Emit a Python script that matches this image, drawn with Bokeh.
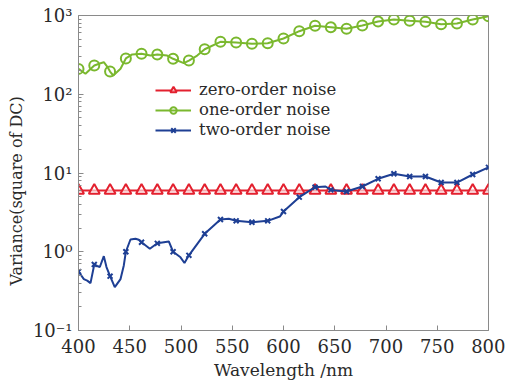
import math
from bokeh.plotting import figure
from bokeh.models import FixedTicker, CustomJSTickFormatter, Legend, LegendItem, Title
from bokeh.embed import file_html
from bokeh.resources import INLINE

# marker positions (nm)
marker_wl = [400, 415.4, 430.8, 446.2, 461.5, 476.9, 492.3, 507.7, 523.1, 538.5,
             553.8, 569.2, 584.6, 600, 615.4, 630.8, 646.2, 661.5, 676.9, 692.3,
             707.7, 723.1, 738.5, 753.8, 769.2, 784.6, 800]

zero_vals = [6.0] * 27

one_marker_vals = [210, 232, 194, 285, 326, 320, 282, 268, 373, 463, 454, 437, 445,
                   510, 632, 740, 710, 677, 747, 840, 890, 857, 832, 776, 792, 890, 980]

two_marker_vals = [0.56, 0.69, 0.49, 1.0, 1.32, 1.28, 1.0, 0.90, 1.69, 2.57, 2.47, 2.37,
                   2.47, 3.24, 4.93, 6.6, 6.1, 5.82, 6.74, 8.44, 9.77, 9.03, 9.03, 7.57,
                   7.57, 9.57, 11.8]

# curve samples
one_line_wl = [400, 406.8, 415.4, 421.5, 424.7, 428, 430.8, 433.9, 441, 446.2, 452.4,
               461.5, 470.2, 476.9, 486.5, 492.3, 502.7, 507.7, 515.8, 523.1, 538.5,
               553.8, 569.2, 584.6, 600, 615.4, 630.8, 646.2, 661.5, 676.9, 692.3,
               707.7, 723.1, 738.5, 753.8, 769.2, 784.6, 800]
one_line_vals = [210, 182, 232, 248, 255, 225, 194, 173, 211, 285, 320, 326, 310, 320,
                 310, 282, 248, 268, 310, 373, 463, 454, 437, 445, 510, 632, 740, 710,
                 677, 747, 840, 890, 857, 832, 776, 792, 890, 980]

two_line_wl = [400, 405.2, 408.5, 411.7, 415.4, 418.2, 420.8, 424.7, 427.3, 430.8, 435.4,
               441, 444.2, 446.2, 450.7, 455.6, 458.8, 461.5, 469.6, 476.9, 488.1, 492.3,
               499.5, 503.4, 507.7, 523.1, 538.5, 546.6, 553.8, 569.2, 584.6, 596.4, 600,
               615.4, 630.8, 641, 646.2, 661.5, 676.9, 692.3, 707.7, 723.1, 738.5, 753.8,
               769.2, 784.6, 800]
two_line_vals = [0.56, 0.45, 0.43, 0.40, 0.69, 0.66, 0.64, 0.88, 0.64, 0.49, 0.355,
                 0.45, 0.67, 1.0, 1.43, 1.46, 1.42, 1.32, 1.09, 1.28, 1.35, 1.0,
                 0.85, 0.72, 0.90, 1.69, 2.57, 2.62, 2.47, 2.37, 2.47, 2.8, 3.24,
                 4.93, 6.6, 6.74, 6.1, 5.82, 6.74, 8.44, 9.77, 9.03, 9.03, 7.57,
                 7.57, 9.57, 11.8]

x_ticks = [400, 450, 500, 550, 600, 650, 700, 750, 800]
y_ticks = [0.1, 1, 10, 100, 1000]

RED = "#e3212f"
GREEN = "#7ab82e"
BLUE = "#1e3f94"
FONT = "DejaVu Serif"
TXT = "#2a2a2a"
AX = "#8a8a8a"

p = figure(width=505, height=384, x_range=(400, 800), y_range=(0.1, 1000),
           y_axis_type="log", output_backend="svg", toolbar_location=None,
           min_border_left=78, min_border_right=17, min_border_top=15,
           min_border_bottom=54, background_fill_color="white",
           border_fill_color="white", outline_line_color=AX)
p.grid.visible = False

minor = []
for d in [0.1, 1, 10, 100]:
    for m in range(2, 10):
        minor.append(d * m)

p.xaxis.ticker = FixedTicker(ticks=x_ticks)
p.yaxis.ticker = FixedTicker(ticks=y_ticks, minor_ticks=minor)
p.yaxis.formatter = CustomJSTickFormatter(code=r"""
const e = Math.round(Math.log10(tick));
const sup = {'-': '\u207B', '0': '\u2070', '1': '\u00B9', '2': '\u00B2', '3': '\u00B3'};
return '10' + String(e).split('').map(c => sup[c]).join('');
""")

for ax in [p.xaxis, p.yaxis]:
    ax.axis_line_color = AX
    ax.major_tick_line_color = AX
    ax.minor_tick_line_color = AX
    ax.major_tick_in = 5
    ax.major_tick_out = 0
    ax.minor_tick_in = 3
    ax.minor_tick_out = 0
    ax.major_label_text_font = FONT
    ax.major_label_text_font_size = "18px"
    ax.major_label_text_color = TXT
    ax.axis_label_text_font = FONT
    ax.axis_label_text_font_style = "normal"
    ax.axis_label_text_color = TXT
p.xaxis.minor_tick_line_color = None
p.xaxis.major_label_standoff = 8
p.yaxis.major_label_standoff = 6
p.xaxis.axis_label = "Wavelength /nm"
p.xaxis.axis_label_text_font_size = "17px"
p.xaxis.axis_label_standoff = 4

r_line = p.line(marker_wl, zero_vals, line_color=RED, line_width=2)
r_mark = p.scatter(marker_wl, zero_vals, marker="triangle", size=11, line_color=RED,
                   line_width=2, fill_color="white", fill_alpha=0.6)
g_line = p.line(one_line_wl, one_line_vals, line_color=GREEN, line_width=2)
g_mark = p.scatter(marker_wl, one_marker_vals, marker="circle", size=10, line_color=GREEN,
                   line_width=2, fill_alpha=0)
b_line = p.line(two_line_wl, two_line_vals, line_color=BLUE, line_width=2)
b_mark = p.scatter(marker_wl, two_marker_vals, marker="x", size=7, line_color=BLUE,
                   line_width=2)

legend = Legend(items=[
    LegendItem(label="zero-order noise", renderers=[r_line, r_mark]),
    LegendItem(label="one-order noise", renderers=[g_line, g_mark]),
    LegendItem(label="two-order noise", renderers=[b_line, b_mark]),
], location=(77, 191), orientation="vertical", background_fill_alpha=0,
    border_line_alpha=0, label_text_font=FONT, label_text_font_size="16.5px",
    label_text_color=TXT, glyph_width=36, glyph_height=16, label_height=17,
    label_standoff=8, spacing=1, padding=0, margin=0)
p.add_layout(legend)

ytitle = Title(text="Variance(square of DC)", align="left", offset=45,
               standoff=7, text_font=FONT, text_font_size="16px",
               text_font_style="normal", text_color=TXT)
p.add_layout(ytitle, "left")

open("out.html", "w").write(file_html(p, INLINE))
